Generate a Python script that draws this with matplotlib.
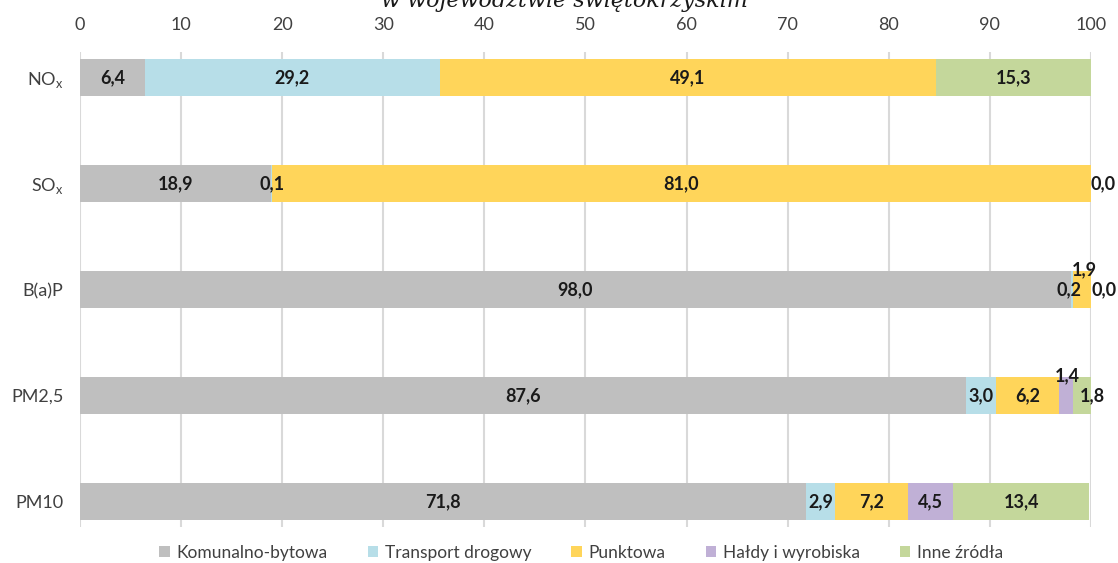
import matplotlib
matplotlib.use("Agg")
import matplotlib.pyplot as plt
import numpy as np

plt.rcParams['font.family'] = ['Lato', 'DejaVu Sans']
plt.rcParams['mathtext.fontset'] = 'custom'
plt.rcParams['mathtext.rm'] = 'Lato'

categories = [r"NO$_\mathregular{x}$", r"SO$_\mathregular{x}$", "B(a)P", "PM2,5", "PM10"]
series_names = ["Komunalno-bytowa", "Transport drogowy", "Punktowa", "Hałdy i wyrobiska", "Inne źródła"]
komunalno = [6.4, 18.9, 98.0, 87.6, 71.8]
transport = [29.2, 0.1, 0.2, 3.0, 2.9]
punktowa = [49.1, 81.0, 1.9, 6.2, 7.2]
haldy = [None, None, None, 1.4, 4.5]
inne = [15.3, 0.0, 0.0, 1.8, 13.4]
x_ticks = [0, 10, 20, 30, 40, 50, 60, 70, 80, 90, 100]
title_text = "w województwie świętokrzyskim"

colors = ["#BFBFBF", "#B7DEE8", "#FFD55A", "#C0B0D6", "#C4D79B"]
series = [komunalno, transport, punktowa, haldy, inne]

# label offsets (dx in data units, dy in category units) for crowded labels
offsets = {
    (1, 4): (1.2, 0.0),
    (2, 1): (-0.3, 0.0),
    (2, 2): (0.2, -0.19),
    (2, 4): (1.2, 0.0),
    (3, 3): (0.2, -0.19),
    (3, 4): (1.0, 0.0),
}

fig = plt.figure(figsize=(11.18, 5.63), dpi=100)
ax = fig.add_axes([0.0716, 0.0639, 0.9042, 0.8437])

y = np.arange(len(categories))
left = np.zeros(len(categories))
for si, (vals, col, name) in enumerate(zip(series, colors, series_names)):
    v = np.array([0.0 if a is None else a for a in vals])
    ax.barh(y, v, left=left, height=0.355, color=col, label=name, zorder=2)
    for ci, a in enumerate(vals):
        if a is None:
            continue
        dx, dy = offsets.get((ci, si), (0.0, 0.0))
        xc = left[ci] + v[ci] / 2 + dx
        ax.text(xc, y[ci] + dy, f"{a:.1f}".replace(".", ","), ha="center", va="center",
                fontsize=13, fontweight="bold", color="#1a1a1a", zorder=4)
    left = left + v

ax.set_xlim(0, 100)
ax.set_ylim(len(categories) - 1 + 0.24, -0.24)
ax.set_yticks(y)
ax.set_yticklabels(categories, fontsize=13, color="#404040")
ax.set_xticks(x_ticks)
ax.set_xticklabels([str(t) for t in x_ticks], fontsize=13, color="#404040")
ax.xaxis.tick_top()
ax.tick_params(axis="both", length=0)
ax.tick_params(axis="y", pad=12)
ax.tick_params(axis="x", pad=14)
ax.grid(axis="x", color="#D9D9D9", linewidth=1.5, zorder=0)
ax.set_axisbelow(True)
for s in ax.spines.values():
    s.set_visible(False)

leg = fig.legend(loc="center", bbox_to_anchor=(0.52, 0.018), ncol=5, frameon=False,
                 fontsize=12.5, handlelength=0.6, handleheight=0.6, handletextpad=0.4,
                 columnspacing=2.3)
for t in leg.get_texts():
    t.set_color("#404040")

fig.text(0.505, 1.0, title_text, ha="center", va="center", fontsize=16,
         family="DejaVu Serif", style="italic", color="#1a1a1a")

fig.savefig("out.png", dpi=100)
